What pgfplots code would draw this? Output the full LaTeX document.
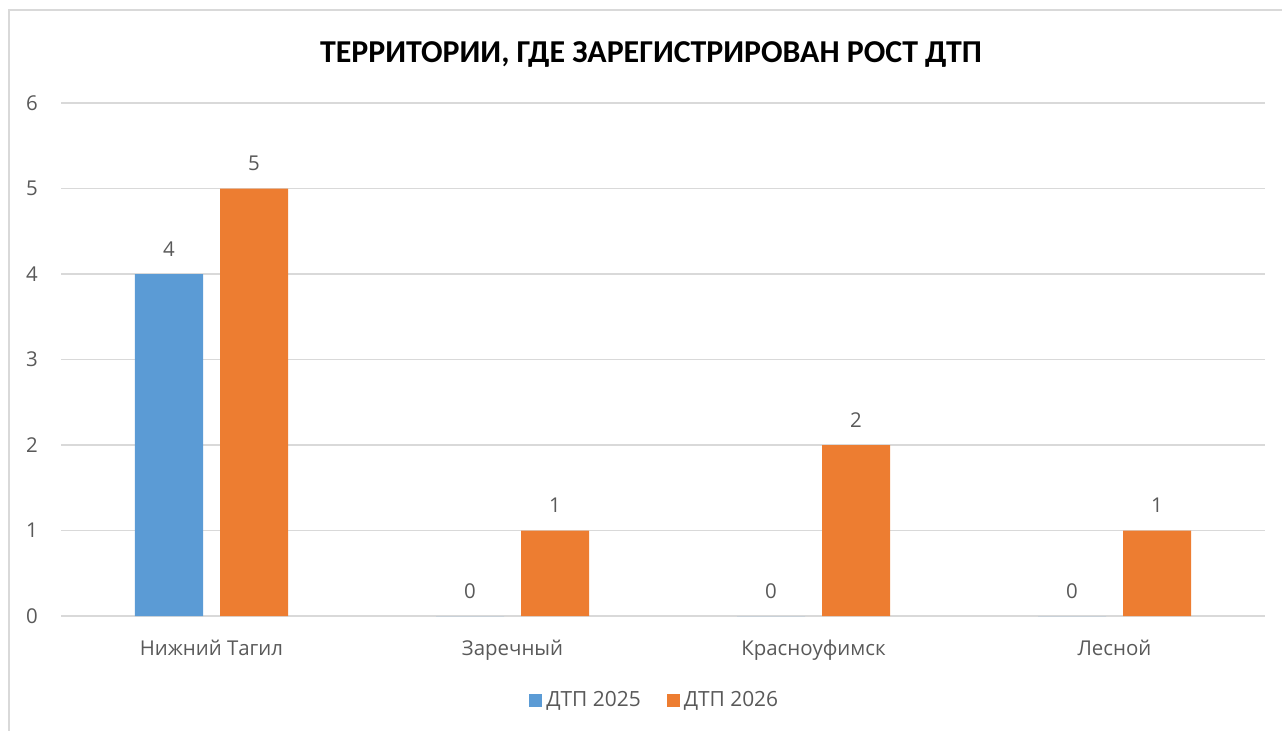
\documentclass[border=0pt]{standalone}
\usepackage{pgfplots}
\pgfplotsset{compat=1.18}
\usepackage{fontspec}
\setmainfont{Open Sans}
\newfontfamily\titlefont{Carlito}
\definecolor{blueS}{HTML}{5B9BD5}
\definecolor{orangeS}{HTML}{ED7D31}
\definecolor{gridc}{HTML}{D9D9D9}
\definecolor{txt}{HTML}{595959}
\begin{document}
\begin{tikzpicture}[x=1bp,y=1bp]
\useasboundingbox (0,0) rectangle (1282,-731);
\draw[gridc, line width=1.3bp] (9,-740) -- (9,-10) -- (1290,-10);
\node[font=\titlefont\bfseries\fontsize{32}{36}\selectfont, anchor=base] at (651,-63) {ТЕРРИТОРИИ, ГДЕ ЗАРЕГИСТРИРОВАН РОСТ ДТП};
\begin{axis}[
  at={(61bp,-616bp)}, anchor=south west,
  scale only axis, width=1204bp, height=513bp,
  ymin=0, ymax=6, xmin=-0.5, xmax=3.5,
  ytick={0,1,...,6},
  xtick=data,
  xticklabels={Нижний Тагил, Заречный, Красноуфимск, Лесной},
  axis line style={draw=none},
  major tick length=0pt,
  ymajorgrids, major grid style={gridc, line width=1.3bp},
  ticklabel style={font=\fontsize{20.5}{24}\selectfont, text=txt},
  /pgf/number format/assume math mode=true,
  yticklabel style={anchor=east, inner sep=0pt, xshift=-23bp},
  xticklabel style={anchor=base, inner sep=0pt, yshift=-39bp},
  ybar, bar width=68bp,
  nodes near coords,
  every node near coord/.append style={font=\fontsize{20.5}{24}\selectfont, text=txt, anchor=base, inner sep=0pt, yshift=18bp},
  legend style={at={(0.494,-0.164)}, anchor=center, draw=none, legend columns=2,
    font=\fontsize{21}{25}\selectfont, text=txt,
    /tikz/every odd column/.append style={column sep=0bp},
    /tikz/every even column/.append style={column sep=22bp},
    nodes={inner xsep=4bp}},
  legend image code/.code={\fill[#1] (0bp,-6.5bp) rectangle (13bp,6.5bp);},
]
\addplot[fill=blueS, draw=none, bar shift=-42.5bp] coordinates {(0,4) (1,0) (2,0) (3,0)};
\addplot[fill=orangeS, draw=none, bar shift=42.5bp] coordinates {(0,5) (1,1) (2,2) (3,1)};
\legend{ДТП 2025, ДТП 2026}
\end{axis}
\end{tikzpicture}
\end{document}
